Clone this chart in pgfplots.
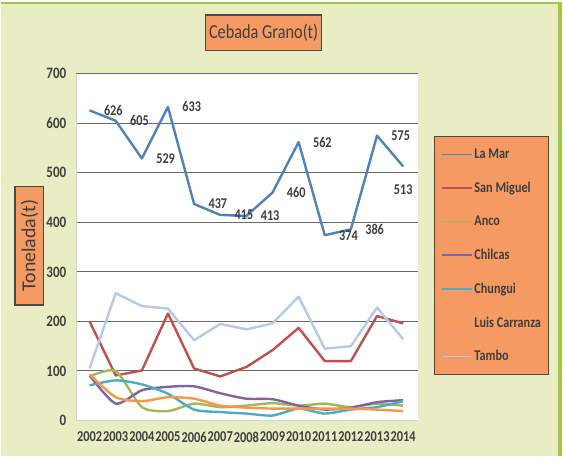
\documentclass[border=0pt]{standalone}
\usepackage{fontspec}
\setmainfont{Carlito}[FakeStretch=0.82]
\newfontfamily\plainfont{Carlito}
\usepackage{pgfplots}
\pgfplotsset{compat=1.18}

\definecolor{bgc}{HTML}{E8EDC4}
\definecolor{edge}{HTML}{9CC94A}
\definecolor{boxfill}{HTML}{F59A62}
\definecolor{boxdraw}{HTML}{4A4A44}
\definecolor{txt}{HTML}{3E3E3E}
\definecolor{gridc}{HTML}{6A6A6A}
\definecolor{cLaMar}{HTML}{4F81BD}
\definecolor{cSanMiguel}{HTML}{C0504D}
\definecolor{cAnco}{HTML}{9BBB59}
\definecolor{cChilcas}{HTML}{8064A2}
\definecolor{cChungui}{HTML}{4BACC6}
\definecolor{cLuis}{HTML}{F79646}
\definecolor{cTambo}{HTML}{B4CAE8}

\begin{document}
\begin{tikzpicture}[x=1bp,y=1bp]
% background panel
\fill[bgc] (0,0) rectangle (563,456);
\draw[edge, line width=2bp] (0,455) -- (563,455);
\draw[edge, line width=4bp] (561,0) -- (561,456);

% title box
\node[draw=boxdraw, fill=boxfill, line width=1.2bp, minimum width=117bp, minimum height=36bp,
      inner sep=0pt, text=txt, font=\fontsize{20}{24}\selectfont] at (263.5,425) {Cebada Grano(t)};

% y label box
\node[rotate=90, draw=boxdraw, fill=boxfill, line width=1.2bp, minimum width=119bp, minimum height=29bp,
      inner sep=0pt, text=txt, font=\plainfont\fontsize{20}{24}\selectfont] at (28.5,211.5) {Tonelada(t)};

\begin{axis}[
    at={(75bp,36bp)}, anchor=south west,
    width=343bp, height=348bp, scale only axis,
    xmin=2001.47, xmax=2014.55,
    ymin=0, ymax=700,
    xtick={2002,...,2014},
    ytick={0,100,...,700},
    /pgf/number format/1000 sep={},
    /pgf/number format/assume math mode=true,
    major tick length=0pt,
    ymajorgrids=true,
    grid style={gridc, line width=1bp},
    axis x line*=bottom, axis y line*=left,
    axis line style={gray!35, -},
    axis background/.style={fill=white},
    xticklabel style={font=\bfseries\fontsize{15.2}{17}\selectfont, text=txt, yshift=-8bp},
    yticklabel style={font=\bfseries\fontsize{16}{18}\selectfont, text=txt, xshift=-6bp},
    every axis plot/.append style={line width=2.4bp, line join=round, no markers},
    legend style={at={(1.0496,0.819)}, anchor=north west,
        fill=boxfill, draw=boxdraw, line width=1bp,
        font=\bfseries\fontsize{15}{17}\selectfont, text=txt,
        row sep=18bp, inner xsep=6bp, inner ysep=10bp},
    legend cell align=left,
    legend image code/.code={\draw[#1, line width=1.6bp] (0bp,0bp) -- (30bp,0bp);},
]
\addplot[cLaMar, nodes near coords, point meta=explicit symbolic,
    every node near coord/.append style={anchor=west, xshift=10bp, text=txt,
        font=\bfseries\fontsize{15}{17}\selectfont}]
 coordinates {(2002,626) [626] (2003,605) [605] (2004,529) [529] (2005,633) [633]
              (2006,437) [437] (2007,415) [415] (2008,413) [413] (2009,460) [460]
              (2010,562) [562] (2011,374) [374] (2012,386) [386] (2013,575) [575]
              (2014,513) []};
\addlegendentry{La Mar}
\addplot[cSanMiguel] coordinates {(2002,200) (2003,91) (2004,101) (2005,216) (2006,105) (2007,89) (2008,108)
              (2009,142) (2010,187) (2011,120) (2012,120) (2013,211) (2014,196)};
\addlegendentry{San Miguel}
\addplot[cAnco, smooth, tension=0.4] coordinates {(2002,89) (2003,100) (2004,27) (2005,19) (2006,34) (2007,27) (2008,30)
              (2009,35) (2010,30) (2011,34) (2012,27) (2013,34) (2014,30)};
\addlegendentry{Anco}
\addplot[cChilcas, smooth, tension=0.4] coordinates {(2002,91) (2003,34) (2004,61) (2005,68) (2006,69) (2007,55) (2008,44)
              (2009,43) (2010,30) (2011,22) (2012,26) (2013,37) (2014,41)};
\addlegendentry{Chilcas}
\addplot[cChungui, smooth, tension=0.4] coordinates {(2002,71) (2003,81) (2004,73) (2005,54) (2006,22) (2007,17) (2008,14)
              (2009,10) (2010,24) (2011,14) (2012,22) (2013,27) (2014,39)};
\addlegendentry{Chungui}
\addplot[cLuis, smooth, tension=0.4] coordinates {(2002,93) (2003,47) (2004,39) (2005,47) (2006,44) (2007,30) (2008,26)
              (2009,24) (2010,24) (2011,24) (2012,24) (2013,22) (2014,19)};
\addlegendentry{Luis Carranza}
\addplot[cTambo] coordinates {(2002,105) (2003,257) (2004,231) (2005,226) (2006,162) (2007,195) (2008,184)
              (2009,196) (2010,250) (2011,145) (2012,150) (2013,228) (2014,164)};
\addlegendentry{Tambo}
% label of the last La Mar point sits below it
\addplot[draw=none, forget plot, nodes near coords,
    every node near coord/.append style={anchor=north, yshift=-14bp, text=txt,
        font=\bfseries\fontsize{15}{17}\selectfont}]
 coordinates {(2014,513)};
\end{axis}
\end{tikzpicture}
\end{document}
